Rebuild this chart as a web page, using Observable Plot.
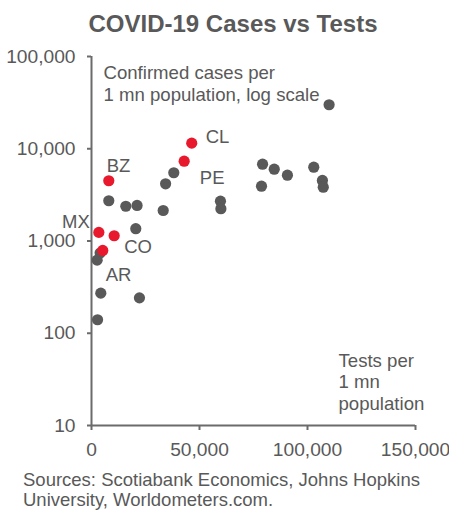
<!DOCTYPE html>
<html><head><meta charset="utf-8">
<script src="https://cdn.jsdelivr.net/npm/d3@7"></script>
<script src="https://cdn.jsdelivr.net/npm/@observablehq/plot@0.6"></script>
<style>
body{margin:0;background:#fff;font-family:"Liberation Sans",Arial,sans-serif;color:#595959;}
#wrap{position:relative;width:449px;height:510px;overflow:hidden;}
#title{position:absolute;top:12px;left:17px;width:432px;text-align:center;font-weight:bold;font-size:24px;line-height:23.5px;white-space:nowrap;}
#chart{position:absolute;top:40px;left:0;}
#caption{position:absolute;top:470px;left:23px;font-size:18.5px;line-height:20px;white-space:nowrap;}
</style>
</head><body>
<div id="wrap">
<div id="title">COVID-19 Cases vs Tests</div>
<div id="chart"></div>
<div id="caption">Sources: Scotiabank Economics, Johns Hopkins<br>University, Worldometers.com.</div>
</div>
<script>
// Other countries (gray)
const otherTests = [110000, 38100, 34300, 33200, 8000, 15900, 21100, 20500, 4000, 2600, 4300, 22200, 2800, 59700, 59900, 79200, 84600, 90700, 78700, 102900, 106900, 107300];
const otherCases = [30000, 5490, 4170, 2140, 2730, 2380, 2430, 1360, 740, 620, 272, 242, 140, 2700, 2240, 6800, 6000, 5170, 3930, 6310, 4530, 3830];
// Latin American highlights (red)
const latamCodes = ["CL", "PE", "BZ", "MX", "CO", "AR"];
const latamTests = [46400, 42900, 8000, 3400, 10500, 5200];
const latamCases = [11500, 7330, 4500, 1240, 1140, 790];
// Axis ticks
const yTicks = [10, 100, 1000, 10000, 100000];
const xTicks = [0, 50000, 100000, 150000];

const others = otherTests.map((t, i) => ({tests: t, cases: otherCases[i]}));
const latam = latamCodes.map((c, i) => ({code: c, tests: latamTests[i], cases: latamCases[i]}));

// label placement (layout only)
const labelLayout = {
  CL: {dx: 14, dy: -6, anchor: "start"},
  PE: {dx: 28, dy: 17, anchor: "middle"},
  BZ: {dx: -2, dy: -15, anchor: "start"},
  MX: {dx: -9, dy: -10, anchor: "end"},
  CO: {dx: 10, dy: 11, anchor: "start"},
  AR: {dx: 3, dy: 25, anchor: "start"}
};

const gray = "#595959";
const red = "#e8192c";
const axisColor = "#6b6b6b";

const labelMarks = latam.map(d => Plot.text([d], {
  x: "tests", y: "cases", text: "code",
  dx: labelLayout[d.code].dx, dy: labelLayout[d.code].dy,
  textAnchor: labelLayout[d.code].anchor,
  fill: gray, fontSize: 18.5
}));

const chart = Plot.plot({
  width: 449,
  height: 430,
  marginTop: 16,
  marginLeft: 91,
  marginRight: 34,
  marginBottom: 45,
  style: {fontFamily: '"Liberation Sans", Arial, sans-serif', fontSize: "18px", color: gray, background: "#fff"},
  x: {domain: [0, 150000]},
  y: {type: "log", domain: [10, 100000]},
  marks: [
    Plot.axisY({ticks: yTicks, tickFormat: d3.format(","), tickSize: 4, tickPadding: 12, label: null, stroke: axisColor, strokeWidth: 2, fill: gray, fontSize: 19.2}),
    Plot.axisX({ticks: xTicks, tickFormat: d3.format(","), tickSize: 5, tickPadding: 12, label: null, stroke: axisColor, strokeWidth: 2, fill: gray, fontSize: 19.2}),
    Plot.ruleX([0], {stroke: axisColor, strokeWidth: 2}),
    Plot.ruleY([10], {stroke: axisColor, strokeWidth: 2}),
    Plot.text(["Confirmed cases per\n1 mn population, log scale"], {frameAnchor: "top-left", dx: 12, dy: 7.5, textAnchor: "start", lineHeight: 1.15, fill: gray, fontSize: 18.6}),
    Plot.text(["Tests per\n1 mn\npopulation"], {frameAnchor: "bottom-right", dx: -77, dy: -16, textAnchor: "start", lineHeight: 1.15, fill: gray, fontSize: 18.6}),
    Plot.dot(others, {x: "tests", y: "cases", r: 5.6, fill: gray, stroke: null}),
    Plot.dot(latam, {x: "tests", y: "cases", r: 5.6, fill: red, stroke: null}),
    ...labelMarks
  ]
});
document.getElementById("chart").appendChild(chart);
</script>
</body></html>
